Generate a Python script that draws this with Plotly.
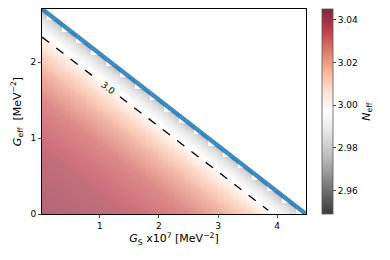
import numpy as np
import plotly.graph_objects as go

# ---- data ----
# boundary line (blue): Geff vs Gs  (x10^7 MeV^-2, MeV^-2)
boundary_gs = [0.02, 4.49]
boundary_geff = [2.70, 0.0]
# N_eff profile vs normalized distance to the boundary (0 = origin, 1 = boundary)
profile_u = [0.0, 0.3, 0.556, 0.7, 0.8, 0.87, 0.95, 1.0]
profile_neff = [3.042, 3.038, 3.030, 3.020, 3.010, 3.000, 2.984, 2.970]
# dashed contour N_eff = 3.0
contour_gs = [0.02, 3.85]
contour_geff = [2.33, 0.05]
contour_label = "3.0"
label_gs = 1.14
# colorbar
cb_range = [2.949, 3.045]
cb_ticks = [2.96, 2.98, 3.00, 3.02, 3.04]
x_ticks = [1, 2, 3, 4]
y_ticks = [0, 1, 2]
n_cells = 18

# ---- field on grid ----
x0, x1 = boundary_gs
y1 = boundary_geff[0]
fine = 12
nx = n_cells * fine
xs = x0 + (np.arange(nx) + 0.5) * (x1 - x0) / nx
ys = (np.arange(nx) + 0.5) * y1 / nx
X, Y = np.meshgrid(xs, ys)
U = (X - x0) / (x1 - x0) + Y / y1
Z = np.interp(U, profile_u, profile_neff)
gx = (X - x0) / (x1 - x0) * n_cells
gy = Y / y1 * n_cells
ci, cj = np.floor(gx), np.floor(gy)
fx = gx - ci
keep = (U <= 1.0) & ~((ci + cj == n_cells - 1) & (fx > 0.3))
Z = np.where(keep, Z, np.nan)

# RdGy_r blended with white
base = ["#1a1a1a", "#4d4d4d", "#878787", "#bababa", "#e0e0e0", "#ffffff",
        "#fddbc7", "#f4a582", "#d6604d", "#b2182b", "#67001f"]
alpha = 0.85
cs = []
for k, h in enumerate(base):
    r, g, b = int(h[1:3], 16), int(h[3:5], 16), int(h[5:7], 16)
    c = [round(alpha * v + (1 - alpha) * 255) for v in (r, g, b)]
    cs.append([k / (len(base) - 1), f"rgb({c[0]},{c[1]},{c[2]})"])

fig = go.Figure()
fig.add_trace(go.Heatmap(
    x=xs, y=ys, z=Z, colorscale=cs, zmin=cb_range[0], zmax=cb_range[1],
    opacity=0.72, hoverinfo="skip",
    colorbar=dict(
        x=1.06, xanchor="left", y=0.5, yanchor="middle", len=1.0,
        xpad=0, ypad=0,
        thickness=11, outlinewidth=0.8, outlinecolor="#555",
        tickvals=cb_ticks, ticktext=[f"{t:.2f}" for t in cb_ticks],
        ticks="outside", ticklen=3, tickfont=dict(size=9, color="black"),
        title=dict(text="<i>N</i><sub>eff</sub>", side="right",
                   font=dict(size=11, color="black")),
    ),
))

# dashed contour split around label
cx = np.array(contour_gs)
cy = np.array(contour_geff)
slope = (cy[1] - cy[0]) / (cx[1] - cx[0])
gap = 0.2
xa, xb = label_gs - gap, label_gs + gap
seg_x = [cx[0], xa, None, xb, cx[1]]
seg_y = [cy[0], cy[0] + slope * (xa - cx[0]), None,
         cy[0] + slope * (xb - cx[0]), cy[1]]
fig.add_trace(go.Scatter(x=seg_x, y=seg_y, mode="lines",
                         line=dict(color="black", width=1.3, dash="dash"),
                         showlegend=False, hoverinfo="skip"))
fig.add_trace(go.Scatter(x=boundary_gs, y=boundary_geff, mode="lines",
                         line=dict(color="rgba(31,119,180,0.85)", width=4.5),
                         showlegend=False, hoverinfo="skip", cliponaxis=False))

label_y = cy[0] + slope * (label_gs - cx[0])
angle = np.degrees(np.arctan(-slope * (205 / y1) / (264 / (x1 - x0))))
fig.add_annotation(x=label_gs, y=label_y, text=contour_label, showarrow=False,
                   textangle=angle, font=dict(size=9, color="black"))

fig.update_layout(
    width=390, height=260,
    margin=dict(l=42, r=84, t=9, b=46, autoexpand=False),
    plot_bgcolor="white", paper_bgcolor="white",
    font=dict(family="DejaVu Sans", size=9, color="black"),
    showlegend=False,
)
fig.update_xaxes(range=[x0, x1], tickvals=x_ticks, ticks="outside", ticklen=3,
                 showgrid=False, zeroline=False, showline=True, linecolor="black",
                 linewidth=1, mirror=True,
                 title=dict(text="<i>G</i><sub>S</sub> x10<sup>7</sup> [MeV<sup>−2</sup>]",
                            font=dict(size=11), standoff=2))
fig.update_yaxes(range=[0, y1], tickvals=y_ticks, ticks="outside", ticklen=3,
                 showgrid=False, zeroline=False, showline=True, linecolor="black",
                 linewidth=1, mirror=True,
                 title=dict(text="<i>G</i><sub>eff</sub>  [MeV<sup>−2</sup>]",
                            font=dict(size=11), standoff=6))

fig.write_html("out.html", config={"displayModeBar": False},
               post_script="document.body.style.margin='0';"
                           "document.body.style.overflow='hidden';")
